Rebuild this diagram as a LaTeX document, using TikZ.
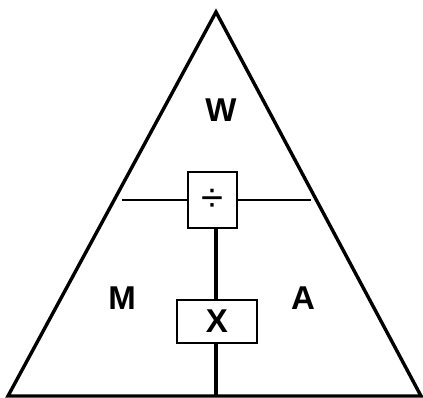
\documentclass[tikz,border=0pt]{standalone}
\usepackage{fontspec}
\setmainfont{Liberation Sans}
\usepackage{tikz}

\begin{document}
\begin{tikzpicture}[
    x=1pt, y=-1pt,
    letter/.style={font=\fontsize{33}{33}\selectfont\bfseries, inner sep=0pt},
    opbox/.style={draw, line width=1.8pt, fill=white, inner sep=0pt}
  ]
  \useasboundingbox (0,0) rectangle (423,398);

  % 三角形
  \coordinate (top) at (216,12);
  \coordinate (bl)  at (8,396);
  \coordinate (br)  at (421,396);
  \draw[line width=3.4pt, line join=miter] (bl) -- (top) -- (br) -- cycle;

  % 运算框
  \node[opbox, minimum width=49pt, minimum height=56pt] (div) at (212.5,200)
       {\fontsize{40}{40}\selectfont ÷};
  \node[opbox, minimum width=80pt, minimum height=43pt] (mul) at (217,321.5)
       {\fontsize{33}{33}\selectfont\bfseries X};

  % 分隔线
  \coordinate (hl) at (122,200);
  \coordinate (hr) at (311,200);
  \coordinate (bot) at (216,396);
  \draw[line width=2.8pt] (hl) -- (div.west);
  \draw[line width=2.8pt] (div.east) -- (hr);
  \draw[line width=4pt] (div.south -| bot) -- (mul.north -| bot);
  \draw[line width=4pt] (mul.south -| bot) -- (bot);

  % 字母
  \node[letter] (w) at (221,110) {W};
  \node[letter] (m) at (122,298) {M};
  \node[letter] (a) at (303,298) {A};

\end{tikzpicture}
\end{document}
